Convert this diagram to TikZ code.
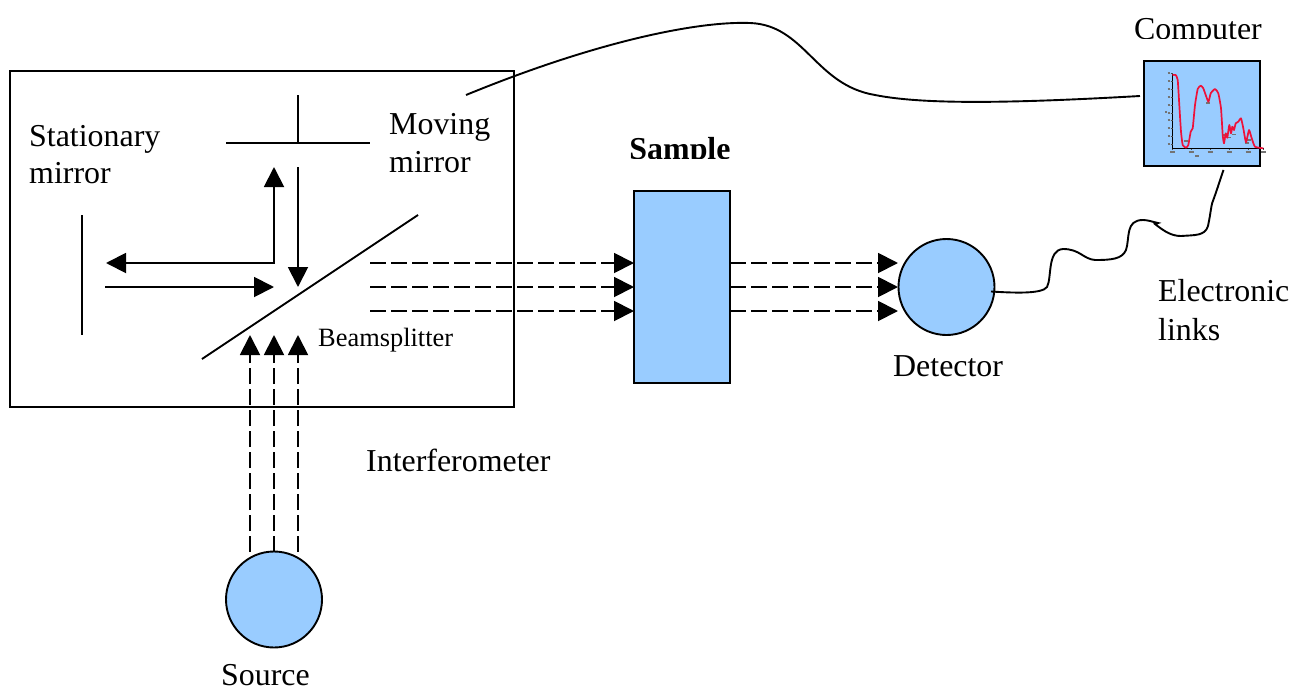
\documentclass[tikz,border=0pt]{standalone}
\usepackage{fontspec}
\setmainfont{Liberation Serif}
\usetikzlibrary{arrows.meta}
\definecolor{paleblue}{HTML}{99CCFF}
\definecolor{curvered}{HTML}{EE1139}
\tikzset{
  x=1pt,y=-1pt,
  lbl/.style={anchor=base west,inner sep=0pt,font=\fontsize{31.9pt}{36pt}\selectfont},
  smalllbl/.style={anchor=base west,inner sep=0pt,font=\fontsize{26.4pt}{30pt}\selectfont},
  boldlbl/.style={anchor=base,inner sep=0pt,font=\fontsize{31.9pt}{36pt}\selectfont\bfseries},
  wire/.style={line width=1.9pt,black},
  bluebox/.style={draw=black,line width=1.9pt,fill=paleblue,rectangle,inner sep=0pt},
  bluecirc/.style={draw=black,line width=1.9pt,fill=paleblue,circle,inner sep=0pt,minimum size=96pt},
  tip/.style={-{Triangle[length=20pt,width=20pt]}},
  beam/.style={wire,tip},
  dbeam/.style={wire,tip,dash pattern=on 16pt off 5pt},
  tick/.style={line width=0.5pt,black!70},
  speck/.style={line width=1.1pt,black!55}
}
\begin{document}
\begin{tikzpicture}
\useasboundingbox (0,0) rectangle (1291,688);
% boxes
\node[draw=black,line width=1.9pt,rectangle,inner sep=0pt,minimum width=504pt,minimum height=336pt] (interf) at (262,239) {};
\node[bluebox,minimum width=96pt,minimum height=192pt] (sample) at (682,287) {};
\node[bluebox,minimum width=116pt,minimum height=105pt] (computer) at (1202,113.5) {};
\node[bluecirc] (detector) at (946.5,287) {};
\node[bluecirc] (source) at (274,599.5) {};
% mirrors and splitter
\coordinate (sm1) at (82,215); \coordinate (sm2) at (82,335);
\coordinate (mm1) at (226,143); \coordinate (mm2) at (370,143);
\coordinate (mm3) at (298,95); \coordinate (mm4) at (298,143);
\coordinate (bs1) at (202,359); \coordinate (bs2) at (418,215);
\draw[wire] (sm1) -- (sm2);
\draw[wire] (mm1) -- (mm2);
\draw[wire] (mm3) -- (mm4);
\draw[wire] (bs1) -- (bs2);
% solid beams
\coordinate (c1) at (274,263); \coordinate (u1) at (274,167); \coordinate (l1) at (106,263);
\coordinate (d0) at (298,167); \coordinate (d1) at (298,287);
\coordinate (r0) at (105,287); \coordinate (r1) at (274,287);
\draw[wire,{Triangle[length=20pt,width=20pt]}-{Triangle[length=20pt,width=20pt]}] (u1) -- (c1) -- (l1);
\draw[beam] (d0) -- (d1);
\draw[beam] (r0) -- (r1);
% source beams
\foreach \n/\x in {a/250,b/274,c/298}{
  \coordinate (s\n0) at (\x,552);
  \coordinate (s\n1) at (\x,335);
  \draw[dbeam] (s\n0) -- (s\n1);
}
% horizontal beams
\foreach \n/\y in {a/263,b/287,c/311}{
  \coordinate (h\n0) at (370,\y);
  \coordinate (h\n1) at (634,\y);
  \coordinate (k\n0) at (730,\y);
  \coordinate (k\n1) at (898,\y);
  \draw[dbeam] (h\n0) -- (h\n1);
  \draw[dbeam] (k\n0) -- (k\n1);
}
% cables
\coordinate (w0) at (466,95);
\coordinate (w1) at (1140,96);
\draw[wire] (w0) .. controls (600,40) and (700,21) .. (750,23)
  .. controls (805,25) and (815,85) .. (875,95)
  .. controls (920,104) and (1000,104) .. (w1);
\coordinate (e0) at (991,291.5);
\coordinate (e1) at (1223.5,170);
\draw[wire] (e0) .. controls (1015,293) and (1042,294) .. (1047,287)
  .. controls (1052,278) and (1047,250) .. (1063,249)
  .. controls (1080,249) and (1083,259) .. (1095,260)
  .. controls (1112,260) and (1122,259) .. (1126,250)
  .. controls (1130,238) and (1125,220) .. (1143,220)
  .. controls (1148,220) and (1153,222) .. (1158,223)
  -- (1155,224)
  .. controls (1165,232) and (1172,236) .. (1181,236)
  .. controls (1195,235) and (1205,236) .. (1208,226)
  .. controls (1211,212) and (1211,204) .. (1214,198)
  .. controls (1218,187) and (1220,180) .. (e1);
% plot in the computer
\coordinate (p0) at (1172.5,148.5);
\coordinate (p1) at (1172.5,73);
\coordinate (p2) at (1264,148.5);
\draw[line width=1pt,black] (p1) -- (p0) -- (p2);
\foreach \y in {73,81,89,97,105,113,120,128,136,144}{
  \draw[tick] (1170.5,\y) -- (1172.5,\y);
  \draw[speck] (1167.5,\y) -- (1170,\y);
}
\foreach \x in {1172.5,1191,1210,1229,1248,1263}{
  \draw[tick] (\x,148.5) -- (\x,150);
  \draw[speck] (\x-2.5,152) -- (\x+2.5,152);
}
\foreach \x/\y in {1208/103,1223.5/135,1228.5/137.5,1233.5/134.5,1246.5/143,1249/140,1186/141}{
  \draw[speck] (\x-2,\y) -- (\x+2,\y);
}
\draw[speck] (1195,156) -- (1199,156);
\draw[speck] (1165,112) -- (1167,112);
\draw[curvered,line width=1.7pt,line join=round]
  plot[smooth,tension=0.3] coordinates {
  (1172.5,75) (1175.7,75) (1177.7,80) (1179.3,105) (1181,131.7) (1182.7,145) (1186,147.7) (1188.3,145)
  (1190.7,131.7) (1192.7,128.3) (1195,105) (1197.7,89) (1200.7,85.7) (1203.3,88.3) (1208.3,101.7)
  (1210.7,93.3) (1215,89) (1218.3,93.3) (1221,108.3) (1222.7,135) (1224,143.3) (1225.7,133.3)
  (1227.3,137.7) (1229.3,125) (1231,133.3) (1232.3,126.7) (1234,130) (1235.7,123.3) (1238.3,121.7) (1241,118.3)
  (1243.3,128.3) (1246,142.3) (1249,130) (1251.7,138.3) (1255,146.7) (1263.3,148.3)};
% texts
\begin{scope}
  \clip (1100,0) rectangle (1291,38.5);
  \node[lbl] (lcomputer) at (1134,39) {Computer};
\end{scope}
\begin{scope}
  \clip (600,120) rectangle (760,158);
  \node[boldlbl] (lsample) at (680,159) {Sample};
\end{scope}
\node[lbl] (lstat1) at (29,146) {Stationary};
\node[lbl] (lstat2) at (29,183) {mirror};
\node[lbl] (lmov1) at (389,134) {Moving};
\node[lbl] (lmov2) at (389,172) {mirror};
\node[smalllbl] (lbs) at (318,346) {Beamsplitter};
\node[lbl] (lint) at (366,471) {Interferometer};
\node[lbl] (ldet) at (893,376) {Detector};
\node[lbl] (lsrc) at (221,685) {Source};
\node[lbl] (lel1) at (1158,301) {Electronic};
\node[lbl] (lel2) at (1158,340) {links};
\end{tikzpicture}
\end{document}
